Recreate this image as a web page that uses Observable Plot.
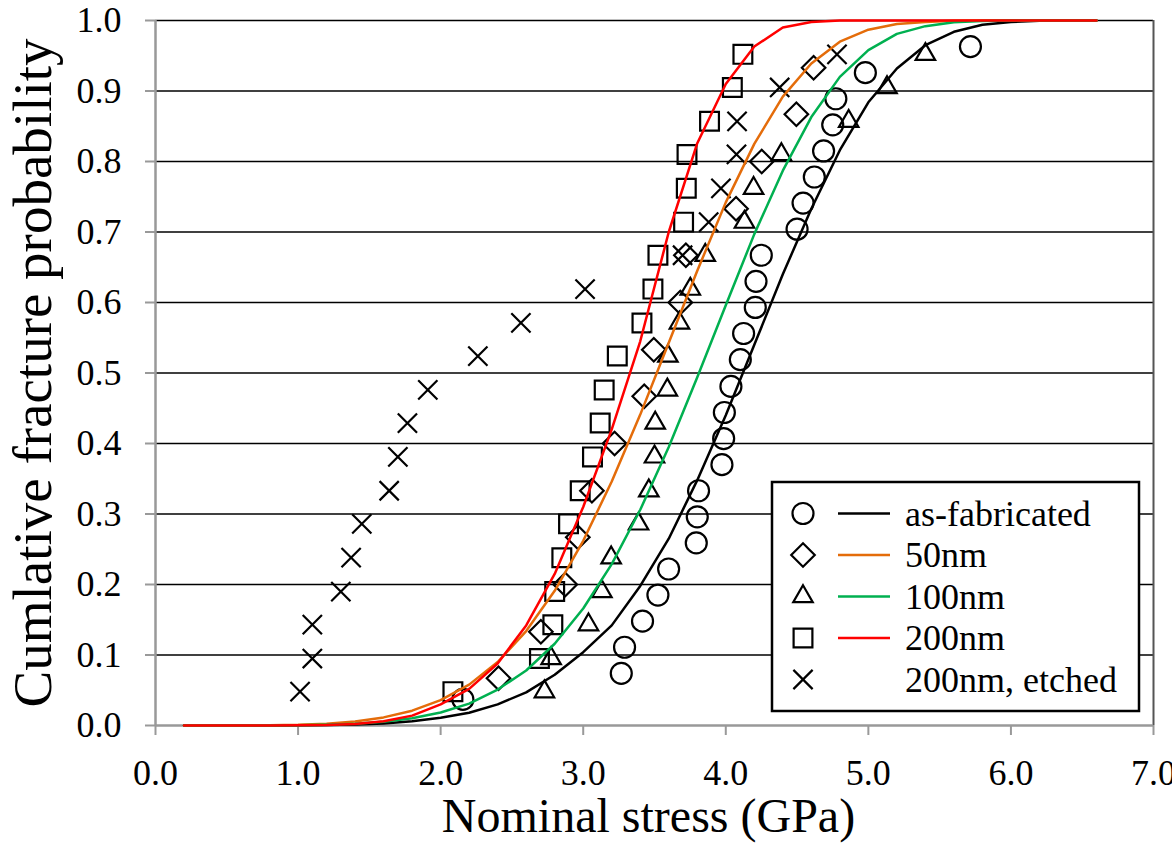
<!DOCTYPE html>
<html>
<head>
<meta charset="utf-8">
<script src="https://cdn.jsdelivr.net/npm/d3@7"></script>
<script src="https://cdn.jsdelivr.net/npm/@observablehq/plot@0.6"></script>
<style>
  html, body { margin: 0; padding: 0; background: #fff; }
  #chart { position: relative; width: 1172px; height: 844px; }
</style>
</head>
<body>
<div id="chart"></div>
<script>
// ---- Data ----
const xTicks = [0, 1, 2, 3, 4, 5, 6, 7];
const yTicks = [0, 0.1, 0.2, 0.3, 0.4, 0.5, 0.6, 0.7, 0.8, 0.9, 1.0];
const seriesNames = ["as-fabricated", "50nm", "100nm", "200nm", "200nm, etched"];
const lineColors = ["#000000", "#E46C0A", "#00B050", "#FF0000"];

// fitted curves
const stressGrid = [0.2,0.4,0.6,0.8,1.0,1.2,1.4,1.6,1.8,2.0,2.2,2.4,2.6,2.8,3.0,3.2,3.4,3.6,3.8,4.0,4.2,4.4,4.6,4.8,5.0,5.2,5.4,5.6,5.8,6.0,6.2,6.4,6.6];
const fitAsFabricated = [0,0,0,0.0001,0.0002,0.0006,0.0013,0.003,0.006,0.011,0.018,0.030,0.047,0.072,0.104,0.142,0.198,0.265,0.348,0.44,0.54,0.64,0.733,0.816,0.884,0.932,0.965,0.984,0.994,0.998,0.9995,1,1];
const fit50nm = [0,0,0.0001,0.0003,0.001,0.0026,0.0058,0.0115,0.021,0.036,0.058,0.09,0.134,0.191,0.262,0.346,0.441,0.543,0.645,0.742,0.825,0.892,0.939,0.97,0.987,0.995,0.998,0.9996,1,1,1,1,1];
const fit100nm = [0,0,0,0.0001,0.0004,0.0011,0.0025,0.0054,0.0103,0.0185,0.031,0.051,0.078,0.116,0.166,0.229,0.306,0.395,0.494,0.596,0.697,0.787,0.863,0.92,0.958,0.981,0.992,0.9975,0.9993,0.9999,1,1,1];
const fit200nm = [0,0,0,0.0001,0.0002,0.0006,0.002,0.006,0.014,0.03,0.052,0.088,0.142,0.215,0.31,0.42,0.545,0.7,0.826,0.91,0.963,0.99,0.998,1,1,1,1,1,1,1,1,1,1];

// measured points
const stressAsFabricated = [2.156,3.267,3.29,3.416,3.524,3.599,3.793,3.80,3.809,3.973,3.985,3.99,4.036,4.102,4.125,4.207,4.212,4.249,4.50,4.542,4.621,4.686,4.75,4.772,4.979,5.716];
const probAsFabricated = [0.037,0.074,0.111,0.148,0.185,0.222,0.259,0.296,0.333,0.370,0.407,0.444,0.481,0.519,0.556,0.593,0.630,0.667,0.704,0.741,0.778,0.815,0.852,0.889,0.926,0.963];

const stress50nm = [2.406,2.703,2.874,2.962,3.061,3.22,3.428,3.495,3.681,3.72,4.072,4.252,4.495,4.616];
const prob50nm = [0.067,0.133,0.2,0.267,0.333,0.4,0.467,0.533,0.6,0.667,0.733,0.8,0.867,0.933];

const stress100nm = [2.728,2.775,3.037,3.131,3.196,3.388,3.46,3.50,3.505,3.59,3.594,3.675,3.751,3.856,4.131,4.195,4.39,4.862,5.131,5.40];
const prob100nm = [0.048,0.095,0.143,0.19,0.238,0.286,0.333,0.381,0.429,0.476,0.524,0.571,0.619,0.667,0.714,0.762,0.81,0.857,0.905,0.952];

const stress200nm = [2.086,2.693,2.787,2.80,2.85,2.897,2.979,3.065,3.119,3.147,3.239,3.412,3.489,3.524,3.704,3.723,3.728,3.886,4.046,4.12];
const prob200nm = [0.048,0.095,0.143,0.19,0.238,0.286,0.333,0.381,0.429,0.476,0.524,0.571,0.619,0.667,0.714,0.762,0.81,0.857,0.905,0.952];

const stress200nmEtched = [1.014,1.10,1.10,1.30,1.372,1.447,1.639,1.70,1.767,1.91,2.261,2.563,3.013,3.697,3.88,3.966,4.075,4.079,4.378,4.78];
const prob200nmEtched = [0.048,0.095,0.143,0.19,0.238,0.286,0.333,0.381,0.429,0.476,0.524,0.571,0.619,0.667,0.714,0.762,0.81,0.857,0.905,0.952];

// ---- Build tables ----
const fits = [fitAsFabricated, fit50nm, fit100nm, fit200nm];
const lineData = fits.map((f, k) => stressGrid.map((x, i) => ({x, y: f[i], s: seriesNames[k]})));
const pts = (xs, ys) => xs.map((x, i) => ({x, y: ys[i]}));

const symbolSpec = [
  {symbol: "circle", r: 10.5},
  {symbol: "diamond2", r: 10.6},
  {symbol: "triangle2", r: 9.3},
  {symbol: "square", r: 10.6},
  {symbol: "times", r: 8.8}
];
const pointSets = [
  pts(stressAsFabricated, probAsFabricated),
  pts(stress50nm, prob50nm),
  pts(stress100nm, prob100nm),
  pts(stress200nm, prob200nm),
  pts(stress200nmEtched, prob200nmEtched)
];

const font = "'Liberation Serif', 'Times New Roman', Times, serif";

const chart = Plot.plot({
  width: 1172,
  height: 844,
  marginLeft: 155,
  marginRight: 19,
  marginTop: 20,
  marginBottom: 119,
  x: {domain: [0, 7]},
  y: {domain: [0, 1]},
  style: {fontFamily: font, background: "#fff", color: "#000"},
  marks: [
    Plot.ruleY(yTicks.filter(d => d > 0), {stroke: "#000", strokeWidth: 1.6}),
    Plot.ruleX([7], {stroke: "#555", strokeWidth: 2}),
    Plot.axisY({ticks: yTicks, tickFormat: d3.format(".1f"), tickSize: 10, tickPadding: 24,
                stroke: "#999", strokeWidth: 2, fontSize: 36, label: null}),
    Plot.axisX({ticks: xTicks, tickFormat: d3.format(".1f"), tickSize: 10, tickPadding: 24,
                stroke: "#999", strokeWidth: 2, fontSize: 36, label: null}),
    Plot.ruleX([0], {stroke: "#999", strokeWidth: 2.5}),
    Plot.ruleY([0], {stroke: "#999", strokeWidth: 2.5}),
    ...pointSets.map((p, k) => Plot.dot(p, {x: "x", y: "y", symbol: symbolSpec[k].symbol,
        r: symbolSpec[k].r, stroke: "#000", strokeWidth: 2.2, fill: "none"})),
    ...lineData.map((d, k) => Plot.line(d, {x: "x", y: "y", stroke: lineColors[k], strokeWidth: 2.5})),
    Plot.text(["Nominal stress (GPa)"], {frameAnchor: "bottom", textAnchor: "middle", lineAnchor: "middle",
        dx: -6, dy: 91, fontSize: 48, fill: "#000"}),
    Plot.text(["Cumlative fracture probability"], {frameAnchor: "left", textAnchor: "middle", lineAnchor: "middle",
        rotate: -90, dx: -122, dy: 0, fontSize: 55, fill: "#000"})
  ]
});

document.getElementById("chart").appendChild(chart);

// ---- Legend (boxed, inside the plot area) ----
const svg = d3.select(chart);
const lg = svg.append("g").attr("font-family", font).attr("text-anchor", "start");
lg.append("rect").attr("x", 772).attr("y", 482).attr("width", 367).attr("height", 229)
  .attr("fill", "#fff").attr("stroke", "#000").attr("stroke-width", 2.5);
const d3Symbols = {circle: d3.symbolCircle, diamond2: d3.symbolDiamond2, triangle2: d3.symbolTriangle2, square: d3.symbolSquare, times: d3.symbolTimes};
seriesNames.forEach((name, k) => {
  const cy = 513.5 + k * 41.5;
  const spec = symbolSpec[k];
  lg.append("path")
    .attr("transform", `translate(803,${cy})`)
    .attr("d", d3.symbol(d3Symbols[spec.symbol], Math.PI * spec.r * spec.r)())
    .attr("fill", "none").attr("stroke", "#000").attr("stroke-width", 2.2);
  if (k < 4) {
    lg.append("line").attr("x1", 838).attr("x2", 890).attr("y1", cy).attr("y2", cy)
      .attr("stroke", lineColors[k]).attr("stroke-width", 2.5);
  }
  lg.append("text").attr("x", 905).attr("y", cy + 12).attr("font-size", 36)
    .attr("text-anchor", "start").attr("fill", "#000").text(name);
});
</script>
</body>
</html>
